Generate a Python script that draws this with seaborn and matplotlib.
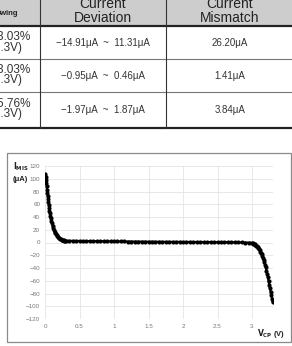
import matplotlib
matplotlib.use("Agg")
import matplotlib.pyplot as plt
from matplotlib.patches import Rectangle
import pandas as pd
import seaborn as sns

# Table contents (left column is clipped in the source image)
header_labels = ["Swing", "Current\nDeviation", "Current\nMismatch"]
row_swing_pct = ["(3.03%", "(3.03%", "(5.76%"]
row_swing_v = ["(@3.3V)", "(@3.3V)", "(@3.3V)"]
row_deviation = ["\u221214.91\u03bcA  ~  11.31\u03bcA", "\u22120.95\u03bcA  ~  0.46\u03bcA", "\u22121.97\u03bcA  ~  1.87\u03bcA"]
row_mismatch = ["26.20\u03bcA", "1.41\u03bcA", "3.84\u03bcA"]

# Current mismatch vs V_CP
vcp_steep = [0.000, 0.005, 0.010, 0.015, 0.020, 0.025, 0.030, 0.035, 0.040, 0.045,
             0.050, 0.055, 0.060, 0.065, 0.070, 0.075, 0.080, 0.090, 0.100, 0.110,
             0.120, 0.130, 0.140, 0.150, 0.160, 0.170, 0.180, 0.190, 0.200, 0.210,
             0.220, 0.230, 0.240, 0.250, 0.260, 0.270, 0.280, 0.290]
imis_steep = [108, 105, 102, 98, 93, 88, 83, 78, 73, 68,
              64, 59, 54, 50, 46, 42, 39, 34, 30, 26,
              22.5, 19.5, 17, 15, 13, 11.3, 9.8, 8.5, 7.4, 6.5,
              5.7, 5.0, 4.5, 4.0, 3.6, 3.3, 3.1, 2.9]

vcp_flat = [0.30, 0.35, 0.40, 0.45, 0.50, 0.55, 0.60, 0.65, 0.70, 0.75,
            0.80, 0.85, 0.90, 0.95, 1.00, 1.05, 1.10, 1.15, 1.20, 1.25,
            1.30, 1.35, 1.40, 1.45, 1.50, 1.55, 1.60, 1.65, 1.70, 1.75,
            1.80, 1.85, 1.90, 1.95, 2.00, 2.05, 2.10, 2.15, 2.20, 2.25,
            2.30, 2.35, 2.40, 2.45, 2.50, 2.55, 2.60, 2.65, 2.70, 2.75,
            2.80, 2.85, 2.90, 2.95]
imis_flat = [2.8, 2.6, 2.5, 2.4, 2.3, 2.2, 2.2, 2.1, 2.0, 2.0,
             1.9, 1.9, 1.8, 1.8, 1.7, 1.7, 1.6, 1.6, 1.5, 1.5,
             1.4, 1.4, 1.3, 1.3, 1.2, 1.2, 1.1, 1.1, 1.0, 1.0,
             1.0, 0.9, 0.9, 0.9, 0.8, 0.8, 0.8, 0.7, 0.7, 0.7,
             0.6, 0.6, 0.6, 0.5, 0.5, 0.5, 0.4, 0.4, 0.3, 0.3,
             0.2, 0.1, 0.0, -0.2]

vcp_tail = [3.00, 3.01, 3.02, 3.03, 3.04, 3.05, 3.06, 3.07, 3.08, 3.09,
            3.10, 3.11, 3.12, 3.13, 3.14, 3.15, 3.16, 3.17, 3.18, 3.19,
            3.20, 3.21, 3.22, 3.23, 3.24, 3.25, 3.26, 3.27, 3.28, 3.29, 3.30]
imis_tail = [-0.5, -1.0, -1.6, -2.3, -3.1, -4.0, -5.0, -6.2, -7.5, -9.0,
             -10.6, -12.3, -14.2, -16.3, -18.6, -21.2, -24.0, -27.2, -30.8, -34.8,
             -39.2, -44.0, -49.2, -54.8, -60.8, -66.4, -72.0, -77.5, -83.0, -88.5, -94.0]

x_ticks = [0, 0.5, 1, 1.5, 2, 2.5, 3]
x_tick_labels = ["0", "0.5", "1", "1.5", "2", "2.5", "3"]
y_ticks = [-120, -100, -80, -60, -40, -20, 0, 20, 40, 60, 80, 100, 120]

df = pd.DataFrame({
    "vcp": vcp_steep + vcp_flat + vcp_tail,
    "imis": imis_steep + imis_flat + imis_tail,
})

sns.set_style("white")
plt.rcParams["font.family"] = ["Liberation Sans", "DejaVu Sans"]

W, H = 292, 346
fig = plt.figure(figsize=(W / 100, H / 100), dpi=100)
fig.patch.set_facecolor("white")

# ---- table drawn in pixel space ----
tab = fig.add_axes([0, 0, 1, 1])
tab.set_xlim(0, W)
tab.set_ylim(H, 0)
tab.axis("off")

tab.add_patch(Rectangle((-5, -5), W + 10, 31, facecolor="#cdcdcd", edgecolor="none"))
tab.plot([-5, W + 5], [26, 26], color="#222222", lw=1.6)
tab.plot([-5, W + 5], [58.5, 58.5], color="#777777", lw=0.8)
tab.plot([-5, W + 5], [92, 92], color="#777777", lw=0.8)
tab.plot([-5, W + 5], [127.5, 127.5], color="#222222", lw=1.6)
for xv in [39.5, 166]:
    tab.plot([xv, xv], [-5, 127.5], color="#333333", lw=0.8)

tab.text(18.7, 13.5, header_labels[0], ha="right", va="center", fontsize=5.5,
         fontweight="bold", color="#222222")
tab.text(103, 10.5, header_labels[1], ha="center", va="center", fontsize=10,
         color="#222222", linespacing=1.0)
tab.text(230, 10.5, header_labels[2], ha="center", va="center", fontsize=10,
         color="#222222", linespacing=1.0)

row_centers = [43.3, 76, 110]
for yc, pct, volt, dev, mis in zip(row_centers, row_swing_pct, row_swing_v,
                                   row_deviation, row_mismatch):
    tab.text(31, yc - 6, pct, ha="right", va="center", fontsize=8.5, color="#333333")
    tab.text(22, yc + 4.5, volt, ha="right", va="center", fontsize=8.5, color="#333333")
    tab.text(103, yc, dev, ha="center", va="center", fontsize=7, color="#333333")
    tab.text(230, yc, mis, ha="center", va="center", fontsize=7, color="#333333")

# chart frame
tab.add_patch(Rectangle((7, 153), 284, 189, facecolor="none", edgecolor="#8a8a8a", lw=0.9))

# ---- chart ----
ax = fig.add_axes([45 / W, 27 / H, 227.7 / W, 153 / H])
sns.lineplot(data=df, x="vcp", y="imis", ax=ax, color="black", linewidth=1.6,
             marker="o", markersize=3, markeredgewidth=0, sort=False, estimator=None)
ax.set_xlim(0, 3.3)
ax.set_ylim(-120, 120)
ax.set_xticks(x_ticks)
ax.set_xticklabels(x_tick_labels)
ax.set_yticks(y_ticks)
ax.grid(True, color="#e4e4e4", lw=0.6)
for s in ax.spines.values():
    s.set_visible(False)
ax.tick_params(labelsize=4.5, colors="#777777", length=0, pad=3.5)
ax.set_xlabel("")
ax.set_ylabel("")

fig.text(13 / W, 1 - 167 / H, r"$\mathbf{I}_{\mathbf{MIS}}$", fontsize=5.5,
         ha="left", va="center", color="#222222")
fig.text(13 / W, 1 - 179 / H, "(\u03bcA)", fontsize=5.5, fontweight="bold",
         ha="left", va="center", color="#222222")
fig.text(257 / W, 1 - 334 / H, r"$\mathbf{V}_{\mathbf{CP}}$" + " (V)", fontsize=5.5,
         fontweight="bold", ha="left", va="center", color="#222222")

fig.savefig("out.png", dpi=100)
